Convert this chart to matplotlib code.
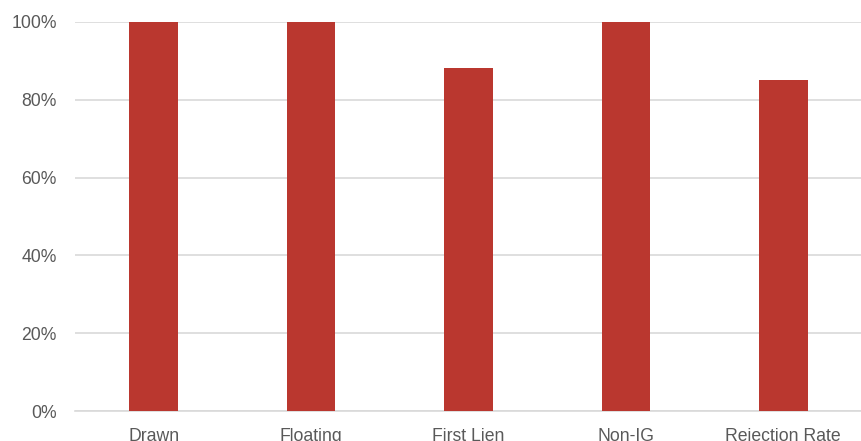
import matplotlib
matplotlib.use('Agg')
import matplotlib.pyplot as plt
from matplotlib.ticker import FuncFormatter

categories = ['Drawn', 'Floating', 'First Lien', 'Non-IG', 'Rejection Rate']
values = [100, 100, 88.2, 100, 85.0]

plt.rcParams['font.family'] = ['Liberation Sans', 'DejaVu Sans']

fig = plt.figure(figsize=(8.62, 4.41), dpi=100)
ax = fig.add_axes([75 / 862, 30 / 441, 787 / 862, 389 / 441])

x = range(len(categories))
ax.bar(x, values, width=0.31, color='#BA372F', zorder=3)

ax.set_xlim(-0.5, len(categories) - 0.5)
ax.set_ylim(0, 100)
ax.set_yticks([0, 20, 40, 60, 80, 100])
ax.yaxis.set_major_formatter(FuncFormatter(lambda v, p: f'{v:.0f}%'))
ax.set_xticks(list(x))
ax.set_xticklabels(categories)

ax.grid(axis='y', color='#d9d9d9', linewidth=1.2, zorder=0)
for s in ['top', 'right', 'left']:
    ax.spines[s].set_visible(False)
ax.spines['bottom'].set_color('#d9d9d9')
ax.spines['bottom'].set_linewidth(1.2)
ax.tick_params(axis='both', length=0, labelsize=12.7, labelcolor='#595959')
ax.tick_params(axis='y', pad=13)
ax.tick_params(axis='x', pad=12)

fig.savefig('out.png', dpi=100)
